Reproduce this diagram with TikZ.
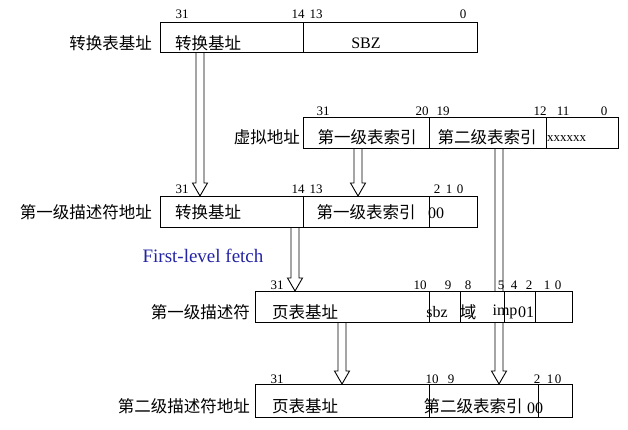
\documentclass[tikz,border=0pt]{standalone}
\usepackage{fontspec}
\setmainfont{Liberation Serif}
\newfontfamily\cjk{Noto Sans CJK SC}
\usepackage{tikz}
\usetikzlibrary{calc}
\usepackage{xcolor}
\definecolor{fetchblue}{RGB}{35,35,165}

\newcommand\hollowarrow[2]{%
  \draw[line width=0.9pt] let \p1=(#1), \p2=(#2) in
    (\x1-4pt,\y1)--(\x1-4pt,\y2+13pt)--(\x1-7.5pt,\y2+13pt)--(\x1,\y2)
    --(\x1+7.5pt,\y2+13pt)--(\x1+4pt,\y2+13pt)--(\x1+4pt,\y1);}

\tikzset{
  bit/.style={font=\fontsize{13}{13}\selectfont, inner sep=0pt},
  cn/.style={font=\cjk\fontsize{16.5}{17}\selectfont, inner sep=0pt},
  en/.style={font=\fontsize{16}{16}\selectfont, inner sep=0pt},
  reg/.style={line width=1pt}
}

\begin{document}
\begin{tikzpicture}[x=1pt,y=-1pt]
  \useasboundingbox (0,0) rectangle (628,429);

  % arrow ends
  \coordinate (a1s) at (200,52);   \coordinate (a1e) at (200,196);
  \coordinate (a2s) at (358,148);  \coordinate (a2e) at (358,196);
  \coordinate (a3s) at (295,227);  \coordinate (a3e) at (295,291);
  \coordinate (a4s) at (499,148);  \coordinate (a4e) at (499,384);
  \coordinate (a5s) at (342,322);  \coordinate (a5e) at (342,384);

  \hollowarrow{a1s}{a1e}
  \hollowarrow{a2s}{a2e}
  \hollowarrow{a3s}{a3e}
  \hollowarrow{a4s}{a4e}
  \hollowarrow{a5s}{a5e}

  % translation table base
  \draw[reg] (160,22) rectangle (477,52);
  \draw[reg] (303,22)--(303,52);
  \node[bit] (b1a) at (182,14) {31};
  \node[bit] (b1b) at (298,14) {14};
  \node[bit] (b1c) at (316,14) {13};
  \node[bit] (b1d) at (463,14) {0};
  \node[cn, anchor=east] (ttb) at (152,43) {转换表基址};
  \node[cn, anchor=west] (ttbf) at (175,43) {转换基址};
  \node[en] (sbz1) at (366,43) {SBZ};

  % virtual address
  \draw[reg] (303,117) rectangle (618,148);
  \draw[reg] (429,117)--(429,148);
  \draw[reg] (546,117)--(546,148);
  \node[bit] (b2a) at (323,111) {31};
  \node[bit] (b2b) at (422,111) {20};
  \node[bit] (b2c) at (443,111) {19};
  \node[bit] (b2d) at (540,111) {12};
  \node[bit] (b2e) at (563,111) {11};
  \node[bit] (b2f) at (604,111) {0};
  \node[cn, anchor=east] (va) at (300,137) {虚拟地址};
  \node[cn] (l1i) at (367,137) {第一级表索引};
  \node[cn] (l2i) at (487,137) {第二级表索引};
  \node[bit, anchor=west] (xx) at (547,139) {xxxxxx};

  % first-level descriptor address
  \draw[reg] (160,196) rectangle (477,227);
  \draw[reg] (303,196)--(303,227);
  \draw[reg] (429,196)--(429,227);
  \node[bit] (b3a) at (182,189) {31};
  \node[bit] (b3b) at (298,189) {14};
  \node[bit] (b3c) at (316,189) {13};
  \node[bit] (b3d) at (437,189) {2};
  \node[bit] (b3e) at (449,189) {1};
  \node[bit] (b3f) at (460,189) {0};
  \node[cn, anchor=east] (fda) at (152,212) {第一级描述符地址};
  \node[cn, anchor=west] (fdab) at (175,212) {转换基址};
  \node[cn] (fdai) at (366,212) {第一级表索引};
  \node[en] (fda0) at (436,213) {00};

  \node[font=\fontsize{19}{19}\selectfont, text=fetchblue, inner sep=0pt] (fetch) at (203,256) {First-level fetch};

  % first-level descriptor
  \draw[reg, fill=white] (255,291) rectangle (572,322);
  \foreach \dx in {429,460,504,535}
    \draw[reg] (\dx,291)--(\dx,322);
  \node[bit] (b4a) at (277,285) {31};
  \node[bit] (b4b) at (420,285) {10};
  \node[bit] (b4c) at (448,285) {9};
  \node[bit] (b4d) at (468,285) {8};
  \node[bit] (b4e) at (501,285) {5};
  \node[bit] (b4f) at (514,285) {4};
  \node[bit] (b4g) at (529,285) {2};
  \node[bit] (b4h) at (547,285) {1};
  \node[bit] (b4i) at (558,285) {0};
  \node[cn, anchor=east] (fd) at (250,312) {第一级描述符};
  \node[cn, anchor=west] (fdb) at (272,312) {页表基址};
  \node[en] (fdsbz) at (437,312) {sbz};
  \node[cn] (fddom) at (468,312) {域};
  \node[en] (fdimp) at (505,312) {imp};
  \node[en] (fd01) at (526,312) {01};

  % second-level descriptor address
  \draw[reg] (255,384) rectangle (572,417);
  \draw[reg] (429,384)--(429,417);
  \draw[reg] (538,384)--(538,417);
  \node[bit] (b5a) at (277,379) {31};
  \node[bit] (b5b) at (432,379) {10};
  \node[bit] (b5c) at (451,379) {9};
  \node[bit] (b5d) at (537,379) {2};
  \node[bit] (b5e) at (550,379) {1};
  \node[bit] (b5f) at (558,379) {0};
  \node[cn, anchor=east] (sda) at (250,406) {第二级描述符地址};
  \node[cn, anchor=west] (sdab) at (272,406) {页表基址};
  \node[cn] (sdai) at (473,406) {第二级表索引};
  \node[en] (sda0) at (535,408) {00};
\end{tikzpicture}
\end{document}
